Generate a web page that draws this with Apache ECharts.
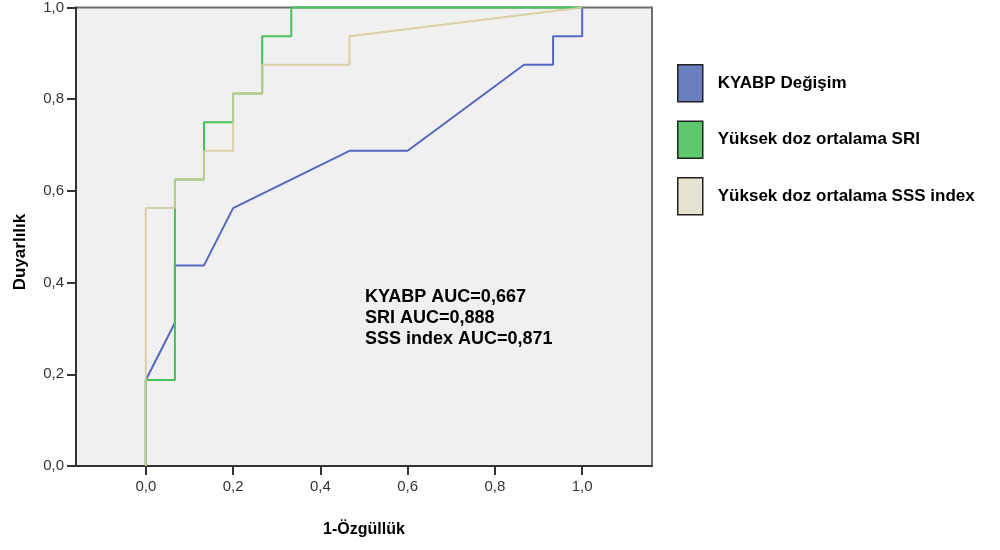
<!DOCTYPE html>
<html>
<head>
<meta charset="utf-8">
<script src="https://cdn.jsdelivr.net/npm/echarts@6/dist/echarts.min.js"></script>
<style>
html,body{margin:0;padding:0;background:#fff;}
#chart{width:1000px;height:550px;}
</style>
</head>
<body>
<div id="chart"></div>
<script>
// ---- data ----
const seriesNames = ['KYABP Değişim', 'Yüksek doz ortalama SRI', 'Yüksek doz ortalama SSS index'];
const kyabpX = [0, 0, 0.0667, 0.0667, 0.1333, 0.2, 0.4667, 0.6, 0.8667, 0.9333, 0.9333, 1, 1];
const kyabpY = [0, 0.1875, 0.3125, 0.4375, 0.4375, 0.5625, 0.6875, 0.6875, 0.875, 0.875, 0.9375, 0.9375, 1];
const sriX = [0, 0, 0.0667, 0.0667, 0.1333, 0.1333, 0.2, 0.2, 0.2667, 0.2667, 0.3333, 0.3333, 1];
const sriY = [0, 0.1875, 0.1875, 0.625, 0.625, 0.75, 0.75, 0.8125, 0.8125, 0.9375, 0.9375, 1, 1];
const sssX = [0, 0, 0.0667, 0.0667, 0.1333, 0.1333, 0.2, 0.2, 0.2667, 0.2667, 0.4667, 0.4667, 1];
const sssY = [0, 0.5625, 0.5625, 0.625, 0.625, 0.6875, 0.6875, 0.8125, 0.8125, 0.875, 0.875, 0.9375, 1];
const xTicks = [0, 0.2, 0.4, 0.6, 0.8, 1.0];
const aucLines = ['KYABP AUC=0,667', 'SRI AUC=0,888', 'SSS index AUC=0,871'];
const xTitle = '1-Özgüllük';
const yTitle = 'Duyarlılık';

const zip = (xs, ys) => xs.map((x, i) => [x, ys[i]]);
const fmt = v => v.toFixed(1).replace('.', ',');
const FONT = 'Liberation Sans, Arial, sans-serif';

const chart = echarts.init(document.getElementById('chart'), null, {renderer: 'canvas'});
chart.setOption({
  animation: false,
  backgroundColor: '#ffffff',
  grid: {
    left: 76, top: 6, right: 348, bottom: 84,
    show: true, backgroundColor: '#f0f0f0', borderColor: '#6e6e6e', borderWidth: 2
  },
  xAxis: {
    type: 'value', min: -0.16, max: 1.16,
    splitLine: {show: false},
    axisLine: {onZero: false, lineStyle: {color: '#333', width: 2}},
    axisTick: {show: true, length: 9, customValues: xTicks, lineStyle: {color: '#333', width: 2}},
    axisLabel: {customValues: xTicks, formatter: fmt, color: '#333', fontSize: 15, margin: 13, fontFamily: FONT},
    name: xTitle, nameLocation: 'middle', nameGap: 56,
    nameTextStyle: {color: '#000', fontSize: 16, fontWeight: 'bold', fontFamily: FONT}
  },
  yAxis: {
    type: 'value', min: 0, max: 1, interval: 0.2,
    splitLine: {show: false},
    axisLine: {show: true, onZero: false, lineStyle: {color: '#333', width: 2}},
    axisTick: {show: true, length: 9, lineStyle: {color: '#333', width: 2}},
    axisLabel: {formatter: fmt, color: '#333', fontSize: 15, margin: 12, fontFamily: FONT}
  },
  legend: {
    orient: 'vertical', left: 677, top: 64, padding: 0,
    itemWidth: 25, itemHeight: 37, itemGap: 18, icon: 'rect',
    itemStyle: {borderColor: '#222', borderWidth: 1.5},
    textStyle: {fontSize: 17, fontWeight: 'bold', color: '#000', fontFamily: FONT, padding: [0, 0, 0, 10]},
    data: [
      {name: seriesNames[0], itemStyle: {color: '#6a7fc0'}},
      {name: seriesNames[1], itemStyle: {color: '#5ec86c'}},
      {name: seriesNames[2], itemStyle: {color: '#e6e3d0'}}
    ]
  },
  graphic: [
    {
      type: 'text', left: 365, top: 287,
      style: {text: aucLines.join('\n'), font: 'bold 18px ' + FONT, fill: '#000', lineHeight: 21}
    },
    {
      type: 'text', x: 20, y: 252, rotation: Math.PI / 2,
      style: {text: yTitle, font: 'bold 17px ' + FONT, fill: '#000', align: 'center', verticalAlign: 'middle'}
    }
  ],
  series: [
    {name: seriesNames[0], type: 'line', data: zip(kyabpX, kyabpY), symbol: 'none', clip: false,
     lineStyle: {color: '#5568c0', width: 2}, itemStyle: {color: '#6a7fc0'}, z: 2},
    {name: seriesNames[1], type: 'line', data: zip(sriX, sriY), symbol: 'none', clip: false,
     lineStyle: {color: '#45c259', width: 2}, itemStyle: {color: '#5ec86c'}, z: 3},
    {name: seriesNames[2], type: 'line', data: zip(sssX, sssY), symbol: 'none', clip: false,
     lineStyle: {color: '#d2cc98', width: 2, opacity: 0.85}, itemStyle: {color: '#e6e3d0'}, z: 4}
  ]
});
</script>
</body>
</html>
